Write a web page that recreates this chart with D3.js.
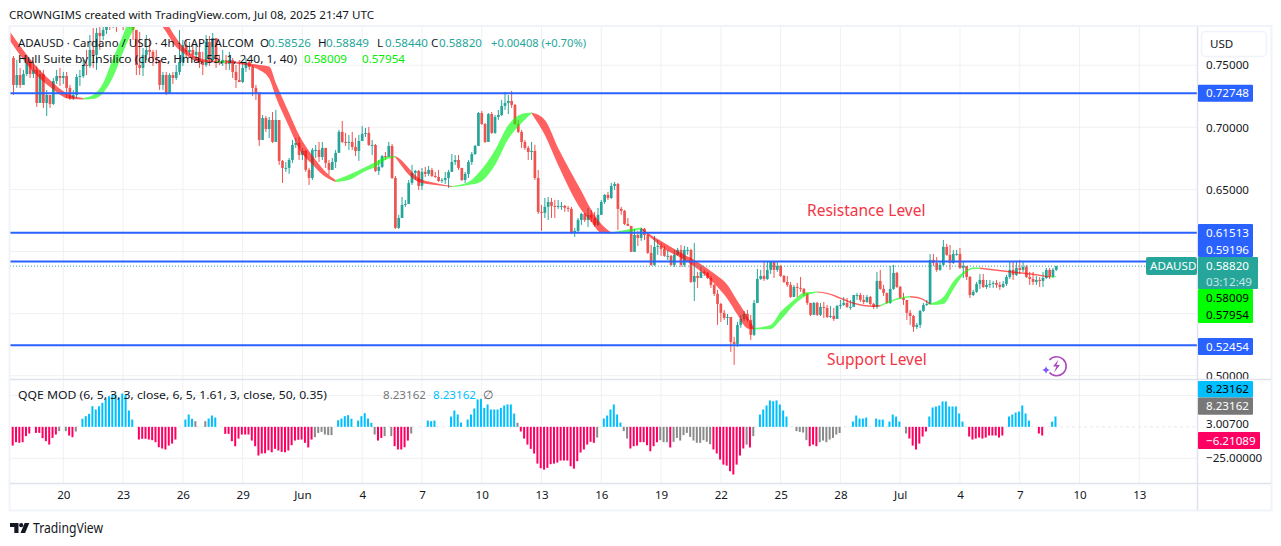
<!DOCTYPE html>
<html><head><meta charset="utf-8">
<script src="https://cdn.jsdelivr.net/npm/d3@7"></script>
<style>html,body{margin:0;padding:0;background:#fff}svg{display:block}text{font-family:"Noto Sans",sans-serif;font-size:11.6px;fill:#131722}</style>
</head><body><div id="c"></div><script>
const opens=[.7558,.7341,.7421,.7341,.7429,.7526,.7429,.7462,.7196,.7429,.7196,.7260,.7188,.7373,.7413,.7397,.7413,.7317,.7236,.7260,.7405,.7413,.7502,.7494,.7623,.7583,.7760,.7735,.7784,.7864,.7848,.7904,.7864,.7929,.7880,.7945,.7848,.7784,.7502,.7478,.7583,.7623,.7607,.7558,.7542,.7341,.7421,.7276,.7421,.7397,.7446,.7526,.7663,.7607,.7623,.7583,.7607,.7526,.7502,.7687,.7542,.7719,.7526,.7518,.7542,.7510,.7542,.7446,.7381,.7365,.7478,.7526,.7486,.7317,.7276,.6898,.7075,.6986,.7059,.6882,.7059,.6729,.6673,.6673,.6737,.6858,.6874,.6777,.6810,.6657,.6592,.6818,.6818,.6761,.6834,.6713,.6657,.6721,.6794,.6963,.6882,.6874,.6882,.6842,.6810,.6890,.6947,.6955,.6858,.6858,.6649,.6681,.6769,.6761,.6850,.6592,.6190,.6270,.6375,.6383,.6552,.6633,.6649,.6528,.6641,.6625,.6657,.6608,.6600,.6568,.6576,.6592,.6641,.6721,.6737,.6673,.6576,.6625,.6721,.6785,.6850,.7115,.7027,.6882,.7107,.6955,.7083,.7099,.7172,.7196,.7212,.7180,.7027,.6963,.6882,.6834,.6801,.6810,.6592,.6319,.6311,.6359,.6399,.6367,.6359,.6367,.6367,.6351,.6343,.6150,.6166,.6254,.6303,.6254,.6295,.6270,.6214,.6295,.6399,.6456,.6431,.6528,.6544,.6343,.6327,.6222,.6206,.5997,.6133,.6109,.6182,.6133,.5989,.5892,.6037,.6045,.6021,.5965,.5965,.5892,.5973,.6013,.5892,.6013,.6013,.5755,.5803,.5787,.5836,.5828,.5787,.5731,.5659,.5578,.5506,.5465,.5473,.5272,.5256,.5409,.5457,.5498,.5449,.5329,.5586,.5779,.5803,.5779,.5852,.5916,.5852,.5884,.5803,.5755,.5731,.5634,.5715,.5707,.5699,.5659,.5586,.5490,.5586,.5490,.5554,.5546,.5473,.5481,.5457,.5562,.5570,.5586,.5554,.5554,.5650,.5650,.5610,.5594,.5634,.5578,.5554,.5763,.5699,.5667,.5586,.5699,.5828,.5715,.5626,.5610,.5506,.5481,.5393,.5409,.5522,.5570,.5578,.5932,.5908,.5852,.5892,.6037,.5973,.5908,.5981,.5981,.5868,.5884,.5795,.5650,.5675,.5739,.5771,.5715,.5731,.5739,.5747,.5731,.5715,.5739,.5795,.5852,.5812,.5868,.5852,.5876,.5795,.5779,.5755,.5771,.5763,.5787,.5852,.5795,.58526];
const closes=[.7341,.7421,.7341,.7429,.7526,.7429,.7462,.7196,.7429,.7196,.7260,.7188,.7373,.7413,.7397,.7413,.7317,.7236,.7260,.7405,.7413,.7502,.7494,.7623,.7583,.7760,.7735,.7784,.7864,.7848,.7904,.7864,.7929,.7880,.7945,.7848,.7784,.7502,.7478,.7583,.7623,.7607,.7558,.7542,.7341,.7421,.7276,.7421,.7397,.7446,.7526,.7663,.7607,.7623,.7583,.7607,.7526,.7502,.7687,.7542,.7719,.7526,.7518,.7542,.7510,.7542,.7446,.7381,.7365,.7478,.7526,.7486,.7317,.7276,.6898,.7075,.6986,.7059,.6882,.7059,.6729,.6673,.6673,.6737,.6858,.6874,.6777,.6810,.6657,.6592,.6818,.6818,.6761,.6834,.6713,.6657,.6721,.6794,.6963,.6882,.6874,.6882,.6842,.6810,.6890,.6947,.6955,.6858,.6858,.6649,.6681,.6769,.6761,.6850,.6592,.6190,.6270,.6375,.6383,.6552,.6633,.6649,.6528,.6641,.6625,.6657,.6608,.6600,.6568,.6576,.6592,.6641,.6721,.6737,.6673,.6576,.6625,.6721,.6785,.6850,.7115,.7027,.6882,.7107,.6955,.7083,.7099,.7172,.7196,.7212,.7180,.7027,.6963,.6882,.6834,.6801,.6810,.6592,.6319,.6311,.6359,.6399,.6367,.6359,.6367,.6367,.6351,.6343,.6150,.6166,.6254,.6303,.6254,.6295,.6270,.6214,.6295,.6399,.6456,.6431,.6528,.6544,.6343,.6327,.6222,.6206,.5997,.6133,.6109,.6182,.6133,.5989,.5892,.6037,.6045,.6021,.5965,.5965,.5892,.5973,.6013,.5892,.6013,.6013,.5755,.5803,.5787,.5836,.5828,.5787,.5731,.5659,.5578,.5506,.5465,.5473,.5272,.5256,.5409,.5457,.5498,.5449,.5329,.5586,.5779,.5803,.5779,.5852,.5916,.5852,.5884,.5803,.5755,.5731,.5634,.5715,.5707,.5699,.5659,.5586,.5490,.5586,.5490,.5554,.5546,.5473,.5481,.5457,.5562,.5570,.5586,.5554,.5554,.5650,.5650,.5610,.5594,.5634,.5578,.5554,.5763,.5699,.5667,.5586,.5699,.5828,.5715,.5626,.5610,.5506,.5481,.5393,.5409,.5522,.5570,.5578,.5932,.5908,.5852,.5892,.6037,.5973,.5908,.5981,.5981,.5868,.5884,.5795,.5650,.5675,.5739,.5771,.5715,.5731,.5739,.5747,.5731,.5715,.5739,.5795,.5852,.5812,.5868,.5852,.5876,.5795,.5779,.5755,.5771,.5763,.5787,.5852,.5795,.58526,.58820];
const highs=[.7574,.7542,.7478,.7462,.7583,.7542,.7526,.7494,.7462,.7462,.7301,.7228,.7397,.7462,.7478,.7446,.7446,.7341,.7301,.7429,.7462,.7542,.7623,.7743,.7800,.7800,.7808,.7848,.7945,.7961,.7985,.7961,.8009,.7985,.8025,.7985,.7945,.7784,.7768,.7639,.7743,.7719,.7623,.7623,.7542,.7446,.7446,.7437,.7446,.7502,.7784,.7703,.7703,.7687,.7663,.7663,.7703,.7607,.7743,.7735,.7760,.7719,.7583,.7623,.7583,.7607,.7558,.7502,.7542,.7526,.7558,.7542,.7502,.7341,.7285,.7099,.7091,.7083,.7123,.7140,.7059,.6737,.6721,.6753,.6898,.6914,.6922,.6834,.6818,.6673,.6834,.6858,.6882,.6882,.6834,.6737,.6753,.6818,.6979,.7051,.6955,.6938,.6963,.6914,.6938,.7011,.6995,.7003,.6898,.6866,.6737,.6777,.6801,.6882,.6866,.6608,.6295,.6439,.6415,.6576,.6697,.6657,.6657,.6673,.6681,.6689,.6673,.6641,.6657,.6592,.6641,.6657,.6785,.6777,.6777,.6673,.6641,.6737,.6801,.6858,.7123,.7131,.7035,.7115,.7123,.7099,.7140,.7220,.7285,.7260,.7293,.7188,.7059,.6979,.6898,.6850,.6882,.6858,.6657,.6375,.6431,.6439,.6431,.6415,.6415,.6399,.6375,.6367,.6359,.6190,.6270,.6311,.6311,.6351,.6335,.6319,.6351,.6415,.6463,.6480,.6552,.6560,.6552,.6359,.6335,.6270,.6206,.6182,.6166,.6190,.6190,.6141,.6053,.6125,.6093,.6069,.6045,.6013,.5973,.6013,.6029,.6053,.6045,.6037,.6021,.6069,.5836,.5876,.5852,.5836,.5803,.5739,.5691,.5586,.5530,.5497,.5473,.5313,.5433,.5489,.5521,.5530,.5489,.5610,.5860,.5852,.5916,.5916,.5916,.5916,.5916,.5892,.5812,.5803,.5755,.5731,.5747,.5795,.5707,.5667,.5586,.5594,.5594,.5586,.5594,.5570,.5562,.5546,.5570,.5610,.5634,.5626,.5610,.5650,.5667,.5667,.5650,.5650,.5642,.5586,.5836,.5852,.5731,.5667,.5884,.5892,.5836,.5723,.5667,.5610,.5530,.5489,.5425,.5530,.5586,.5610,.5980,.5980,.5956,.5916,.6093,.6061,.6053,.6013,.6013,.6029,.5916,.5868,.5803,.5691,.5755,.5819,.5819,.5771,.5771,.5763,.5771,.5755,.5763,.5812,.5916,.5916,.5924,.5932,.5916,.5892,.5836,.5836,.5803,.5795,.5836,.5868,.5868,.5868,.58849];
const lows=[.7260,.7317,.7317,.7341,.7413,.7397,.7397,.7164,.7341,.7156,.7091,.7156,.7180,.7349,.7333,.7349,.7236,.7220,.7220,.7236,.7333,.7397,.7421,.7478,.7478,.7462,.7623,.7703,.7752,.7784,.7800,.7768,.7816,.7784,.7832,.7800,.7703,.7421,.7421,.7413,.7542,.7526,.7494,.7510,.7301,.7301,.7260,.7276,.7349,.7381,.7421,.7494,.7558,.7583,.7558,.7542,.7478,.7421,.7486,.7494,.7526,.7478,.7502,.7494,.7462,.7462,.7397,.7317,.7365,.7357,.7446,.7462,.7252,.7220,.6850,.6938,.6962,.6914,.6874,.6914,.6697,.6552,.6641,.6625,.6713,.6834,.6737,.6737,.6641,.6536,.6576,.6753,.6721,.6737,.6673,.6617,.6657,.6673,.6801,.6874,.6850,.6818,.6818,.6769,.6729,.6890,.6922,.6850,.6777,.6641,.6617,.6673,.6737,.6761,.6584,.6182,.6182,.6270,.6359,.6383,.6536,.6576,.6496,.6496,.6600,.6608,.6600,.6592,.6560,.6552,.6544,.6512,.6641,.6697,.6657,.6568,.6552,.6592,.6697,.6777,.6874,.7019,.6874,.6882,.6947,.6947,.7059,.7091,.7140,.7107,.7156,.7019,.6954,.6834,.6818,.6737,.6737,.6576,.6302,.6166,.6270,.6254,.6270,.6270,.6343,.6335,.6319,.6319,.6142,.6117,.6150,.6214,.6238,.6198,.6238,.6198,.6206,.6295,.6383,.6415,.6423,.6496,.6174,.6295,.6214,.6206,.5997,.5997,.6045,.6085,.6093,.5981,.5884,.5884,.5973,.5965,.5957,.5932,.5884,.5876,.5965,.5876,.5876,.5973,.5747,.5602,.5707,.5787,.5803,.5779,.5707,.5642,.5409,.5433,.5449,.5409,.5192,.5087,.5232,.5385,.5441,.5433,.5288,.5320,.5586,.5771,.5763,.5771,.5819,.5787,.5836,.5795,.5747,.5715,.5626,.5634,.5634,.5675,.5642,.5570,.5481,.5490,.5481,.5481,.5465,.5465,.5465,.5441,.5538,.5538,.5562,.5546,.5530,.5578,.5610,.5594,.5578,.5586,.5570,.5538,.5538,.5691,.5642,.5578,.5578,.5691,.5707,.5618,.5570,.5449,.5409,.5353,.5377,.5385,.5514,.5562,.5578,.5884,.5836,.5844,.5884,.5965,.5852,.5900,.5965,.5860,.5787,.5771,.5626,.5642,.5667,.5699,.5707,.5699,.5707,.5707,.5707,.5691,.5707,.5723,.5779,.5771,.5803,.5819,.5836,.5787,.5731,.5731,.5731,.5715,.5715,.5779,.5779,.5787,.58440];
const hullBars=[-1,6,11,17,21,24,27,30,33,35,40,46,48,52,56,61,64,68,74,77,79,83,86,90,94,97,101,106,109,112,115,116,119,122,127,132,137,140,145,149,153,156,160,164,171,174,177,180,184,189,191,196,201,206,211,215,218,221,223,228,231,235,238,242,245,249,253,259,261,267,270,273,276,280,283,286,289,291,300,308,312,314];
const hullUpper=[.7767,.7518,.7381,.7260,.7236,.7260,.7357,.7558,.7743,.7880,.7985,.7848,.7759,.7623,.7558,.7534,.7534,.7526,.7502,.7490,.7357,.7115,.6938,.6773,.6641,.6576,.6617,.6681,.6721,.6761,.6769,.6753,.6673,.6592,.6552,.6528,.6560,.6632,.6817,.7019,.7107,.7119,.7059,.6834,.6487,.6335,.6222,.6153,.6174,.6194,.6150,.6069,.5989,.5916,.5823,.5731,.5602,.5477,.5385,.5409,.5514,.5610,.5667,.5678,.5667,.5630,.5590,.5566,.5570,.5630,.5642,.5630,.5582,.5634,.5759,.5835,.5872,.5872,.5843,.5819,.5799,.58009];
const hullLower=[.7695,.7446,.7325,.7228,.7224,.7228,.7277,.7405,.7607,.7727,.7945,.7767,.7679,.7583,.7526,.7522,.7522,.7510,.7462,.7393,.7244,.7003,.6826,.6701,.6600,.6560,.6576,.6649,.6681,.6737,.6757,.6721,.6617,.6560,.6536,.6520,.6536,.6552,.6697,.6906,.7035,.7111,.6938,.6697,.6335,.6238,.6150,.6145,.6150,.6182,.6133,.6021,.5948,.5860,.5743,.5618,.5490,.5381,.5373,.5377,.5449,.5570,.5634,.5670,.5658,.5618,.5578,.5554,.5558,.5618,.5630,.5618,.5570,.5578,.5695,.5811,.5860,.5860,.5831,.5807,.5791,.57954];
const hullTurns=[21,40,61,64,97,115,132,156,180,189,223,242,261,270,276,291,312];
const qqe=[-14.9,-12.2,-12.7,-12.2,-7.4,-5.3,0,-4.8,-4.8,-9,-11.4,-14.1,-8.8,-6.1,-3.4,0,-3.4,-6.9,-8.2,-3.7,0,6.4,8.5,10.3,16.4,13.8,16.4,19.1,22.5,24.4,25.7,25.7,23.1,26.5,25.7,13,5.8,0,-10.1,-9.5,-9.5,-10.1,-10.6,-12.2,-16.2,-17.2,-18,-14.9,-13.3,-10.1,0,0,5.8,9.8,6.4,4.5,0,0,4.5,6.6,9,7.4,0,0,-5.6,-5.6,-11.4,-15.4,-9.3,-6.1,-6.1,-6.1,-10.9,-15.4,-22.8,-21.2,-21,-18.6,-20.2,-17.5,-18.8,-19.9,-20.2,-18.8,-14.6,-10.9,-10.3,-10.1,-12.7,-16.4,-10.1,-8.2,-4.8,-4,-6.1,-6.6,-6.6,0,5.3,6.6,8.5,9.3,6.4,0,5,8.5,10.9,6.6,3.2,-6.1,-10.9,-8.8,-7.4,0,-7.4,-15.4,-18,-18,-16.2,-10.9,-5.3,0,0,0,0,5,4.5,5,0,0,0,0,8.2,13,9.8,3.4,0,5.8,9.8,14.6,21.8,22.3,15.1,17.8,13.8,13.8,13.8,15.1,17,17.8,17.8,10.6,3.2,-3.7,-9.3,-14.1,-17.5,-21.2,-29.2,-32.9,-34,-32.6,-29.7,-29.2,-28.4,-26.8,-26.8,-26.8,-31.3,-33.2,-27.3,-20.4,-18,-14.1,-11.9,-12.7,-8.5,0,6.6,9,13.8,17.8,9.8,3.4,-3.4,-9.3,-17.2,-15.4,-14.9,-12.2,-12.2,-14.6,-19.4,-15.4,-12.2,-10.6,-12.2,-12.2,-16.4,-11.9,-8.8,-10.9,-6.6,-4.8,-8,-10.9,-12.7,-12.7,-10.6,-11.9,-13.8,-18,-21.2,-26,-30,-30.8,-35.3,-37.9,-30,-22.8,-17.2,-14.1,-16.4,-7.4,0,9.8,13.8,17,21,20.4,21,17.8,13,8.2,0,0,-3.4,-4,-4.5,-10.6,-15.4,-14.1,-15.4,-12.2,-10.9,-12.2,-10.1,-8.8,-6.1,-4.8,0,0,0,4.2,9,6.6,6.6,7.4,0,0,6.6,5.8,5.8,0,4.2,9.8,8.2,4.2,0,-5.3,-9.3,-14.9,-18,-13.3,-7.7,-3.7,8.2,15.4,16.2,17,20.2,20.2,16.2,16.2,16.2,10.6,4.2,0,-7.7,-10.1,-9.3,-8.5,-9.3,-8.5,-6.9,-6.9,-6.9,-8.5,-6.9,0,8.2,9.8,11.4,12.2,17,10.6,5,0,0,-5.3,-6.9,0,0,4.2,8.23162];
const qqeGrey=[14,16,19,55,58,91,92,93,94,95,96,109,112,114,120,152,176,184,185,195,196,197,199,200,201,202,203,204,205,206,207,208,209,210,221,223,236,237,238,239,243,244,245,246,247,248,249,269];
const priceTicks=[.75,.7,.65,.6,.55,.5];
const axisPriceLabels=[.75,.7,.65,.5];
const qqeTicks=[25,-25];
const timeLabels=["20","23","26","29","Jun","4","7","10","13","16","19","22","25","28","Jul","4","7","10","13"];
const firstTickBar=15, barsPerTick=18;
const levels=[.72748,.61513,.59196,.52454];
const legendValues=[["O",268,"0.58526"],["H",326,"0.58849"],["L",385,"0.58440"],["C",439,"0.58820"]];

const W=1281,H=546,L=10,R=1197,T=27,PB=379,QB=483,AB=510;
const RED="#ef5350",TEAL="#26a69a",BLUE="#2962ff";
const svg=d3.select("#c").append("svg").attr("width",W).attr("height",H);
const defs=svg.append("defs");
defs.append("clipPath").attr("id","pp").append("rect").attr("x",L).attr("y",T).attr("width",R-L).attr("height",PB-T);
defs.append("clipPath").attr("id","ax").append("rect").attr("x",R).attr("y",T).attr("width",W-R).attr("height",PB-T);
const x=d3.scaleLinear().domain([15,315]).range([63.3,63.3+300*3.321]);
const y=d3.scaleLinear().domain([.7,.5]).range([127.3,375.7]);
const q=d3.scaleLinear().domain([25,-25]).range([395.4,458.3]);
const tickBars=timeLabels.map((_,i)=>firstTickBar+i*barsPerTick);

// grid
const g=svg.append("g");
g.selectAll(".v").data(tickBars).join("line").attr("x1",d=>x(d)).attr("x2",d=>x(d)).attr("y1",T).attr("y2",QB).attr("stroke","#f0f1f4");
g.selectAll(".h").data(priceTicks).join("line").attr("x1",L).attr("x2",R).attr("y1",d=>y(d)).attr("y2",d=>y(d)).attr("stroke","#f0f1f4");
g.selectAll(".q").data(qqeTicks).join("line").attr("x1",L).attr("x2",R).attr("y1",d=>q(d)).attr("y2",d=>q(d)).attr("stroke","#f0f1f4");
g.append("line").attr("x1",L).attr("x2",R).attr("y1",q(0)).attr("y2",q(0)).attr("stroke","#e6e8ee").attr("stroke-dasharray","3 3");

// candles + hull + levels, clipped to the price pane
const pp=svg.append("g").attr("clip-path","url(#pp)");
const idx=d3.range(closes.length);
pp.selectAll(".w").data(idx).join("rect").attr("x",i=>x(i)-.5).attr("width",1)
  .attr("y",i=>y(highs[i])).attr("height",i=>Math.max(0,y(lows[i])-y(highs[i])))
  .attr("fill",i=>closes[i]>=opens[i]?TEAL:RED);
pp.selectAll(".b").data(idx).join("rect").attr("x",i=>x(i)-1.35).attr("width",2.7)
  .attr("y",i=>y(Math.max(opens[i],closes[i]))).attr("height",i=>Math.max(1,Math.abs(y(opens[i])-y(closes[i]))))
  .attr("fill",i=>closes[i]>=opens[i]?TEAL:RED);
const bounds=[hullBars[0],...hullTurns,hullBars[hullBars.length-1]];
const area=d3.area().x(k=>x(hullBars[k])).y0(k=>y(hullLower[k])).y1(k=>y(hullUpper[k])).curve(d3.curveMonotoneX);
d3.pairs(bounds).forEach(([a,b],n)=>{
  const ks=d3.range(hullBars.length).filter(k=>hullBars[k]>=a&&hullBars[k]<=b);
  pp.append("path").attr("d",area(ks)).attr("fill",n%2?"#00ff00":"#ff0000").attr("fill-opacity",.62);
});
pp.selectAll(".lv").data(levels).join("line").attr("x1",L).attr("x2",R).attr("y1",d=>y(d)).attr("y2",d=>y(d)).attr("stroke",BLUE).attr("stroke-width",2);
pp.append("line").attr("x1",L).attr("x2",R).attr("y1",y(closes[closes.length-1])).attr("y2",y(closes[closes.length-1])).attr("stroke",TEAL).attr("stroke-dasharray","1 2");

// QQE
svg.append("g").selectAll("rect").data(idx).join("rect").attr("x",i=>x(i)-1.8).attr("width",2)
  .attr("y",i=>q(Math.max(0,qqe[i]))).attr("height",i=>Math.abs(q(qqe[i])-q(0)))
  .attr("fill",i=>qqeGrey.includes(i)?"#8a8a8a":qqe[i]>0?"#00bfff":"#ff0062");

// axes
const pa=d3.axisRight(y).tickValues(axisPriceLabels).tickFormat(d3.format(".5f")).tickSize(0).tickPadding(9);
const pag=svg.append("g").attr("clip-path","url(#ax)").append("g").attr("transform",`translate(${R},0)`).call(pa);
pag.select(".domain").remove();
const ta=d3.axisBottom(x).tickValues(tickBars).tickFormat((d,i)=>timeLabels[i]).tickSize(0).tickPadding(8);
const tag=svg.append("g").attr("transform",`translate(0,${QB})`).call(ta);
tag.select(".domain").remove();
svg.selectAll(".tick text").style("font-size","11.6px").style("font-family",'"Noto Sans",sans-serif').attr("fill","#131722");

// frame
const fr=svg.append("g");
fr.append("rect").attr("x",L-.5).attr("y",26).attr("width",W-L-9).attr("height",AB-26+.5).attr("fill","none").attr("stroke","#f0f3fa").attr("stroke-width",2);
fr.append("line").attr("x1",R+.5).attr("x2",R+.5).attr("y1",T).attr("y2",AB).attr("stroke","#e0e3eb").attr("stroke-width",1.5);
[PB+.5,QB+.5].forEach(v=>fr.append("line").attr("x1",L).attr("x2",1271).attr("y1",v).attr("y2",v).attr("stroke","#e0e3eb").attr("stroke-width",1.5));

// right labels
function tag2(x0,y0,w,h,fill,txt,col){
  svg.append("rect").attr("x",x0).attr("y",y0).attr("width",w).attr("height",h).attr("fill",fill).attr("rx",1);
  if(txt)svg.append("text").attr("x",1206).attr("y",y0+h/2+4.2).text(txt).style("fill",col);
}
tag2(1198,84.7,55,17,BLUE,"0.72748","#fff");
tag2(1198,224,55,33,BLUE);
svg.append("text").attr("x",1206).attr("y",237).text("0.61513").style("fill","#fff");
svg.append("text").attr("x",1206).attr("y",253.5).text("0.59196").style("fill","#fff");
tag2(1198,257,60,32,TEAL);
svg.append("text").attr("x",1206).attr("y",270).text("0.58820").style("fill","#fff");
svg.append("text").attr("x",1206).attr("y",285.5).text("03:12:49").style("fill","#c4e6e2");
tag2(1198,289,55,34,"#00ff00");
svg.append("text").attr("x",1206).attr("y",302).text("0.58009").style("fill","#000");
svg.append("text").attr("x",1206).attr("y",319).text("0.57954").style("fill","#000");
tag2(1198,338,55,17,BLUE,"0.52454","#fff");
svg.append("rect").attr("x",1146).attr("y",257).attr("width",51).attr("height",18).attr("rx",2).attr("fill",TEAL);
svg.append("text").attr("x",1150).attr("y",270).text("ADAUSD").style("fill","#fff");
tag2(1198,381,55,16.5,"#00bfff","8.23162","#000");
tag2(1198,397.5,55,17.2,"#787878","8.23162","#fff");
svg.append("text").attr("x",1206).attr("y",428).text("3.00700");
tag2(1198,432,62,17,"#ff0062","\u22126.21089","#fff");
svg.append("text").attr("x",1206).attr("y",462).text("\u221225.00000");
svg.append("rect").attr("x",1201.5).attr("y",31.5).attr("width",65).attr("height",25).attr("rx",4).attr("fill","#fff").attr("stroke","#f0f3fa").attr("stroke-width",1.5);
svg.append("text").attr("x",1210).attr("y",47.5).text("USD");

// legends
function fit(t,len){return t.attr("textLength",len).attr("lengthAdjust","spacingAndGlyphs")}
fit(svg.append("text").attr("x",9).attr("y",18.5).text("CROWNGIMS created with TradingView.com, Jul 08, 2025 21:47 UTC"),365);
fit(svg.append("text").attr("x",18).attr("y",46.5).text("ADAUSD \u00b7 Cardano / USD \u00b7 4h \u00b7 CAPITALCOM"),236);
legendValues.forEach(([k,vx,v])=>{
  svg.append("text").attr("x",vx-8).attr("y",46.5).text(k);
  svg.append("text").attr("x",vx).attr("y",46.5).text(v).style("fill",TEAL);
});
fit(svg.append("text").attr("x",491).attr("y",46.5).text("+0.00408 (+0.70%)").style("fill",TEAL),95);
fit(svg.append("text").attr("x",18).attr("y",63).text("Hull Suite by InSilico (close, Hma, 55, 1, 240, 1, 40)"),279);
svg.append("text").attr("x",304).attr("y",63).text("0.58009").style("fill","#00ee00");
svg.append("text").attr("x",362).attr("y",63).text("0.57954").style("fill","#00ee00");
fit(svg.append("text").attr("x",18).attr("y",399).text("QQE MOD (6, 5, 3, 3, close, 6, 5, 1.61, 3, close, 50, 0.35)"),309);
svg.append("text").attr("x",383).attr("y",399).text("8.23162").style("fill","#787878");
svg.append("text").attr("x",433).attr("y",399).text("8.23162").style("fill","#00bfff");
svg.append("text").attr("x",483).attr("y",399).text("\u2205").style("fill","#555");
svg.append("text").attr("x",807).attr("y",216).text("Resistance Level").style("font-size","15.5px").style("fill","#f23645");
svg.append("text").attr("x",827).attr("y",365).text("Support Level").style("font-size","15.5px").style("fill","#f23645");

// bolt icon
const ic=svg.append("g");
ic.append("path").attr("d","M1049.5 372.5a9.5 9.5 0 1 0 0 -12.5").attr("fill","none").attr("stroke","#ab47bc").attr("stroke-width",1.6);
ic.append("path").attr("d","M1058.5 359.5l-5.5 7h3.5l-2.5 6 6 -7.5h-3.5z").attr("fill","#ab47bc");
ic.append("path").attr("d","M1046 366q.6 3.4 4 4 -3.4.6 -4 4 -.6 -3.4 -4 -4 3.4 -.6 4 -4z").attr("fill","#7e57ff");

// logo
const lg=svg.append("g").attr("fill","#131722");
lg.append("path").attr("d","M10 523h8.5v10h-4.2v-6h-4.3z");
lg.append("circle").attr("cx",21.2).attr("cy",525.2).attr("r",2.1);
lg.append("path").attr("d","M20.5 533l4.2 -10h4.6l-4.2 10z");
fit(svg.append("text").attr("x",33).attr("y",533).text("TradingView").style("font-size","13.5px"),70);
</script></body></html>
